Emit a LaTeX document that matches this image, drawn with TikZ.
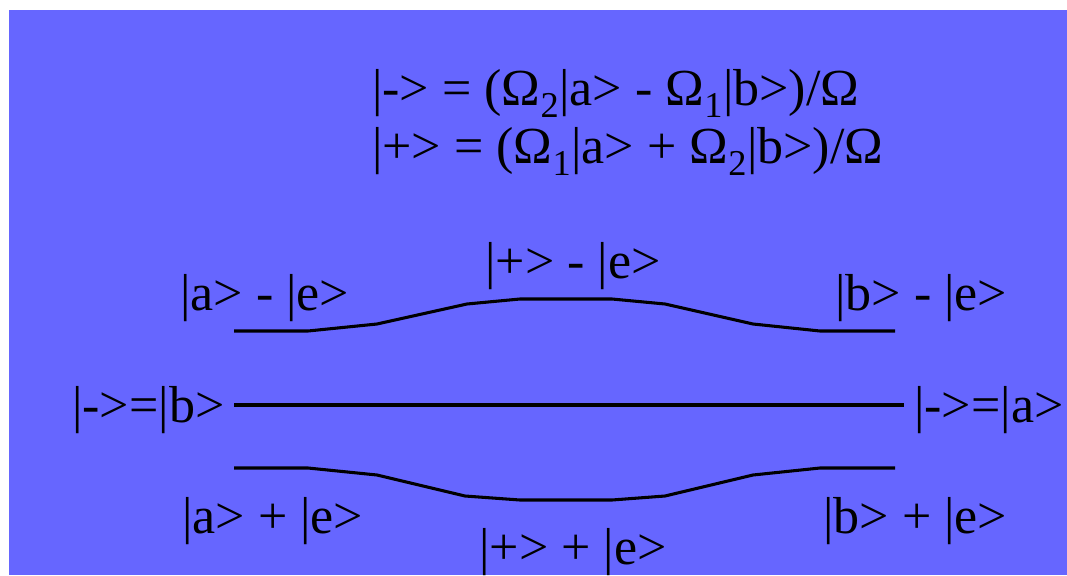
\documentclass[tikz,border=0pt]{standalone}
\usepackage{fontspec}
\setmainfont{Liberation Serif}
\definecolor{bgblue}{RGB}{102,102,255}
\begin{document}
\begin{tikzpicture}[x=0.75pt,y=-0.75pt,
  lbl/.style={inner sep=0pt, anchor=base west, font=\fontsize{39}{47}\selectfont},
  level/.style={line width=2.3pt, line join=round, line cap=butt}]
\useasboundingbox (0,0) rectangle (1067,575);
\fill[bgblue] (9,10) rectangle (1067,575);
% equations
\node[lbl] (eq1) at (372,105) {|-> = (Ω\textsubscript{2}|a> - Ω\textsubscript{1}|b>)/Ω};
\node[lbl] (eq2) at (372,163) {|+> = (Ω\textsubscript{1}|a> + Ω\textsubscript{2}|b>)/Ω};
% labels
\node[lbl] (am) at (180,310) {|a> - |e>};
\node[lbl] (pm) at (485,278) {|+> - |e>};
\node[lbl] (bm) at (835,310) {|b> - |e>};
\node[lbl] (mb) at (72,422) {|->=|b>};
\node[lbl] (ma) at (914,422) {|->=|a>};
\node[lbl] (ap) at (182,533) {|a> + |e>};
\node[lbl] (pp) at (479,564) {|+> + |e>};
\node[lbl] (bp) at (823,533) {|b> + |e>};
% levels
\coordinate (ml) at (234,405);
\coordinate (mr) at (904,405);
\draw[level] (ml) -- (mr);
\coordinate (tl) at (234,331);
\coordinate (tr) at (895,331);
\draw[level] (tl) -- (308,331) -- (377,324) -- (467,304) -- (520,299) -- (612,299)
  -- (665,304) -- (753,324) -- (820,331) -- (tr);
\coordinate (bl) at (234,468);
\coordinate (br) at (895,468);
\draw[level] (bl) -- (308,468) -- (377,475) -- (465,496) -- (520,500) -- (612,500)
  -- (665,496) -- (753,475) -- (820,468) -- (br);
\end{tikzpicture}
\end{document}
